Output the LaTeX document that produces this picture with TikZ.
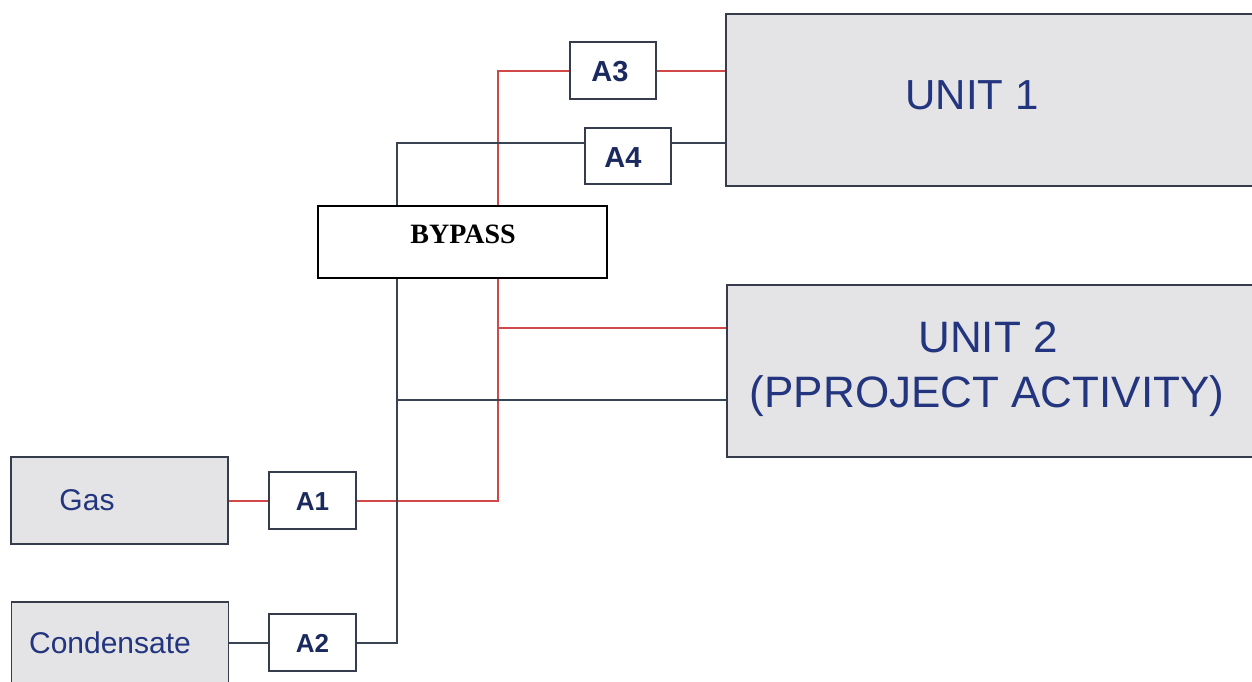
\documentclass[tikz,border=0pt]{standalone}
\usepackage{fontspec}
\setmainfont{Liberation Sans}
\newfontfamily\serifbold{Liberation Serif}
\usetikzlibrary{backgrounds}
\definecolor{boxfill}{HTML}{E4E4E6}
\definecolor{boxline}{HTML}{363C4C}
\definecolor{navy}{HTML}{22357E}
\definecolor{darknavy}{HTML}{1B2A5E}
\definecolor{redline}{HTML}{D04848}
\definecolor{darkline}{HTML}{3A4352}
\begin{document}
\begin{tikzpicture}[x=1pt,y=-1pt,
  unitbox/.style={draw=boxline,fill=boxfill,line width=1.5pt,inner sep=0pt},
  valvebox/.style={draw=boxline,fill=white,line width=1.5pt,inner sep=0pt,minimum width=87pt,minimum height=57pt},
  valvetxt/.style={anchor=base,inner sep=0pt,text=darknavy,font=\bfseries\fontsize{#1}{#1}\selectfont},
  label/.style={anchor=base,inner sep=0pt,text=navy,font=\fontsize{#1}{#1}\selectfont},
  rl/.style={draw=redline,line width=1.5pt},
  bl/.style={draw=darkline,line width=1.5pt}]
\useasboundingbox (0,0) rectangle (1252,682);

% source boxes
\node[unitbox,minimum width=217pt,minimum height=87pt] (gas) at (119.5,500.5) {};
\node[label=30] (gast) at (87,510) {Gas};
\node[unitbox,minimum width=217pt,minimum height=98pt] (cond) at (120,651) {};
\node[label=30] (condt) at (110,653) {Condensate};

% unit boxes
\node[unitbox,minimum width=544pt,minimum height=172pt] (u1) at (998,100) {};
\node[label=42] (u1t) at (972,110) {UNIT 1};
\node[unitbox,minimum width=543pt,minimum height=172pt] (u2) at (998.5,371) {};
\node[label=44] (u2ta) at (988,352) {UNIT 2};
\node[label=44] (u2tb) at (987,407) {(PPROJECT ACTIVITY)};

% valves
\node[valvebox] (a1) at (312.5,500.5) {};
\node[valvetxt=26] (a1t) at (312.5,510) {A1};
\node[valvebox] (a2) at (312.5,642.5) {};
\node[valvetxt=26] (a2t) at (312.5,652) {A2};
\node[valvebox,minimum width=86pt] (a3) at (613,70.5) {};
\node[valvetxt=29] (a3t) at (610,82) {A3};
\node[valvebox,minimum width=86pt,minimum height=56pt] (a4) at (628,156) {};
\node[valvetxt=29] (a4t) at (623,167) {A4};

% bypass
\node[draw=black,fill=white,line width=1.5pt,minimum width=289pt,minimum height=72pt,inner sep=0pt] (bp) at (462.5,242) {};
\node[anchor=base,inner sep=0pt,font=\serifbold\bfseries\fontsize{28}{28}\selectfont] (bpt) at (463,243) {BYPASS};

% junction coordinates
\coordinate (r1) at (498,501);
\coordinate (r2) at (498,328);
\coordinate (r3) at (498,71);
\coordinate (b1) at (397,643);
\coordinate (b2) at (397,400);
\coordinate (b3) at (397,143);

\begin{scope}[on background layer]
  \fill[white] (0,0) rectangle (1252,682);
  % red (gas) line
  \draw[rl] (gas.east |- r1) -- (a1.west |- r1);
  \draw[rl] (a1.east |- r1) -- (r1) -- (r3) -- (a3.west |- r3);
  \draw[rl] (a3.east |- r3) -- (u1.west |- r3);
  \draw[rl] (r2) -- (u2.west |- r2);
  % dark (condensate) line
  \draw[bl] (cond.east |- b1) -- (a2.west |- b1);
  \draw[bl] (a2.east |- b1) -- (b1) -- (b3) -- (a4.west |- b3);
  \draw[bl] (a4.east |- b3) -- (u1.west |- b3);
  \draw[bl] (b2) -- (u2.west |- b2);
\end{scope}
\end{tikzpicture}
\end{document}
